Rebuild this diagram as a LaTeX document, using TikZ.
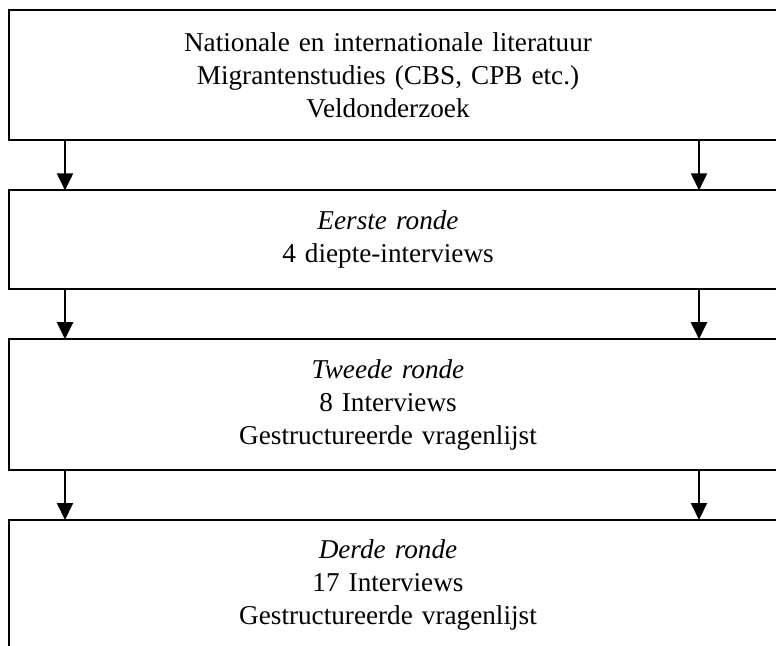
\documentclass[tikz,border=0pt]{standalone}
\usepackage{fontspec}
\setmainfont{Liberation Serif}
\usetikzlibrary{arrows.meta, positioning}

\tikzset{
    stage/.style={rectangle, text width=379pt, inner xsep=0pt, align=center,
        font=\fontsize{13.6}{16.5}\selectfont},
    frame/.style={line width=1pt},
    flow/.style={line width=1pt, -{Triangle[length=8.5pt, width=8pt]}}
}

\begin{document}
\begin{tikzpicture}[x=0.5pt, y=-0.5pt, node distance=25pt]
        \useasboundingbox (0,0) rectangle (776,646);
        \coordinate (L) at (65,0);
        \coordinate (R) at (699,0);
        \node[stage, minimum height=65pt] (b1) at (388,75)
            {Nationale en internationale literatuur\\Migrantenstudies (CBS, CPB etc.)\\Veldonderzoek};
        \node[stage, minimum height=49pt, below=of b1] (b2)
            {\textit{Eerste ronde}\\4 diepte-interviews};
        \node[stage, minimum height=65pt, below=of b2] (b3)
            {\textit{Tweede ronde}\\8 Interviews\\Gestructureerde vragenlijst};
        \node[stage, minimum height=65pt, below=of b3] (b4)
            {\textit{Derde ronde}\\17 Interviews\\Gestructureerde vragenlijst};
        \foreach \b in {b1,b2,b3,b4}
            \draw[frame] (\b.north west) rectangle ([xshift=15pt]\b.south east);
        \foreach \u/\v in {b1/b2,b2/b3,b3/b4} {
            \draw[flow] (\u.south -| L) -- (\v.north -| L);
            \draw[flow] (\u.south -| R) -- (\v.north -| R);
        }
    \end{tikzpicture}
\end{document}
